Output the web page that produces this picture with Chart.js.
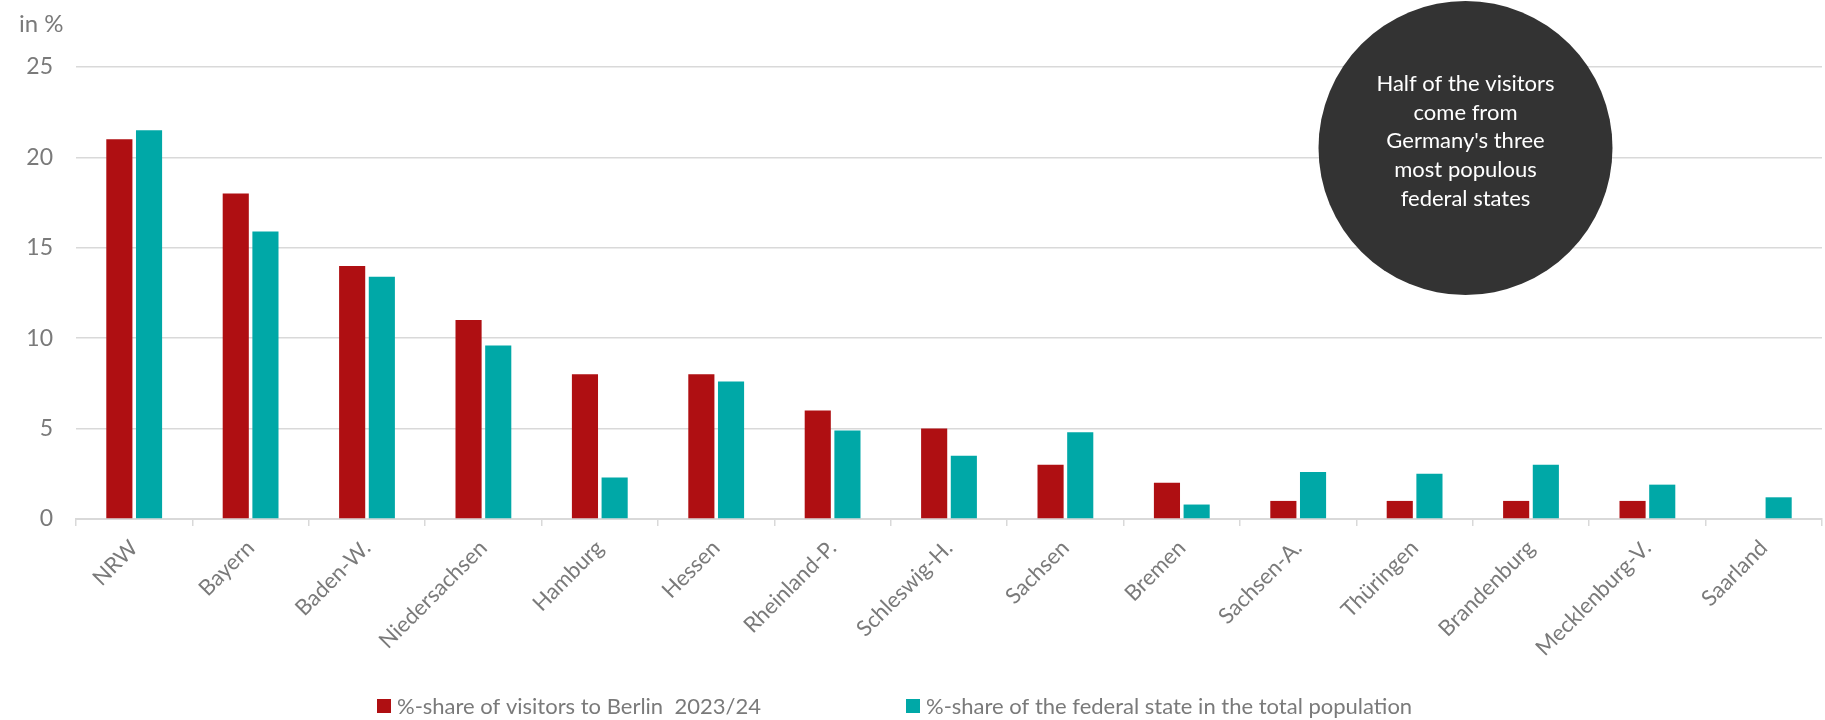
<!DOCTYPE html>
<html>
<head>
<meta charset="utf-8">
<title>Visitors to Berlin by federal state</title>
<script src="https://cdn.jsdelivr.net/npm/chart.js@4.4.1/dist/chart.umd.min.js"></script>
<style>
  html, body { margin: 0; padding: 0; background: #fff; }
  #wrap { width: 1825px; height: 720px; position: relative; }
</style>
</head>
<body>
<div id="wrap"><canvas id="myChart"></canvas></div>
<script>
const states = ['NRW', 'Bayern', 'Baden-W.', 'Niedersachsen', 'Hamburg', 'Hessen', 'Rheinland-P.',
  'Schleswig-H.', 'Sachsen', 'Bremen', 'Sachsen-A.', 'Thüringen', 'Brandenburg', 'Mecklenburg-V.', 'Saarland'];
const visitorShare = [21, 18, 14, 11, 8, 8, 6, 5, 3, 2, 1, 1, 1, 1, 0];
const populationShare = [21.5, 15.9, 13.4, 9.6, 2.3, 7.6, 4.9, 3.5, 4.8, 0.8, 2.6, 2.5, 3.0, 1.9, 1.2];
const seriesLabels = ['%-share of visitors to Berlin  2023/24', '%-share of the federal state in the total population'];
const seriesColors = ['#AF0F12', '#00A8A7'];
const yMax = 25;
const yStep = 5;
const unitLabel = 'in %';
const noteLines = ['Half of the visitors', 'come from', "Germany's three", 'most populous', 'federal states'];

const FONT = 'Lato';
const GREY = '#7a7a7a';
const GRID = '#d9d9d9';

// unit label, note bubble and legend drawn on top of the chart
const extras = {
  id: 'extras',
  afterDraw(chart) {
    const ctx = chart.ctx;
    ctx.save();

    ctx.fillStyle = GREY;
    ctx.font = '24px ' + FONT;
    ctx.textAlign = 'left';
    ctx.textBaseline = 'middle';
    ctx.fillText(unitLabel, 19, 24);

    // note bubble
    ctx.fillStyle = '#333333';
    ctx.beginPath();
    ctx.arc(1465.5, 148, 147, 0, Math.PI * 2);
    ctx.fill();
    ctx.fillStyle = '#ffffff';
    ctx.font = '22px ' + FONT;
    ctx.textAlign = 'center';
    noteLines.forEach((line, i) => ctx.fillText(line, 1465.5, 84 + i * 28.7));

    // legend
    const legendX = [377, 906];
    ctx.font = '22px ' + FONT;
    ctx.textAlign = 'left';
    chart.data.datasets.forEach((ds, i) => {
      ctx.fillStyle = ds.backgroundColor;
      ctx.fillRect(legendX[i], 699, 14, 14);
      ctx.fillStyle = GREY;
      ctx.fillText(ds.label, legendX[i] + 20, 707);
    });

    ctx.restore();
  }
};

function drawChart() {
  const ctx = document.getElementById('myChart').getContext('2d');
  window.myChart = new Chart(ctx, {
    type: 'bar',
    data: {
      labels: states,
      datasets: [
        { label: seriesLabels[0], data: visitorShare, backgroundColor: seriesColors[0] },
        { label: seriesLabels[1], data: populationShare, backgroundColor: seriesColors[1] }
      ]
    },
    options: {
      responsive: true,
      maintainAspectRatio: false,
      animation: false,
      categoryPercentage: 0.51,
      barPercentage: 0.88,
      layout: { padding: { top: 67, right: 3, left: 0, bottom: 0 } },
      plugins: {
        legend: { display: false },
        tooltip: { enabled: false }
      },
      scales: {
        x: {
          afterFit: scale => { scale.height = 201; },
          grid: {
            display: true,
            drawOnChartArea: false,
            drawTicks: true,
            tickLength: 7,
            color: GRID,
            lineWidth: 1.5
          },
          border: { display: true, color: GRID, width: 2 },
          ticks: {
            autoSkip: false,
            minRotation: 45,
            maxRotation: 45,
            padding: 9,
            color: GREY,
            font: { family: FONT, size: 22 }
          }
        },
        y: {
          min: 0,
          max: yMax,
          afterFit: scale => { scale.width = 76; },
          grid: { color: GRID, lineWidth: 1.5, drawTicks: false },
          border: { display: false },
          ticks: {
            stepSize: yStep,
            padding: 23,
            color: GREY,
            font: { family: FONT, size: 23 }
          }
        }
      }
    },
    plugins: [extras]
  });
}

document.fonts.load('22px ' + FONT).then(drawChart, drawChart);
</script>
</body>
</html>
